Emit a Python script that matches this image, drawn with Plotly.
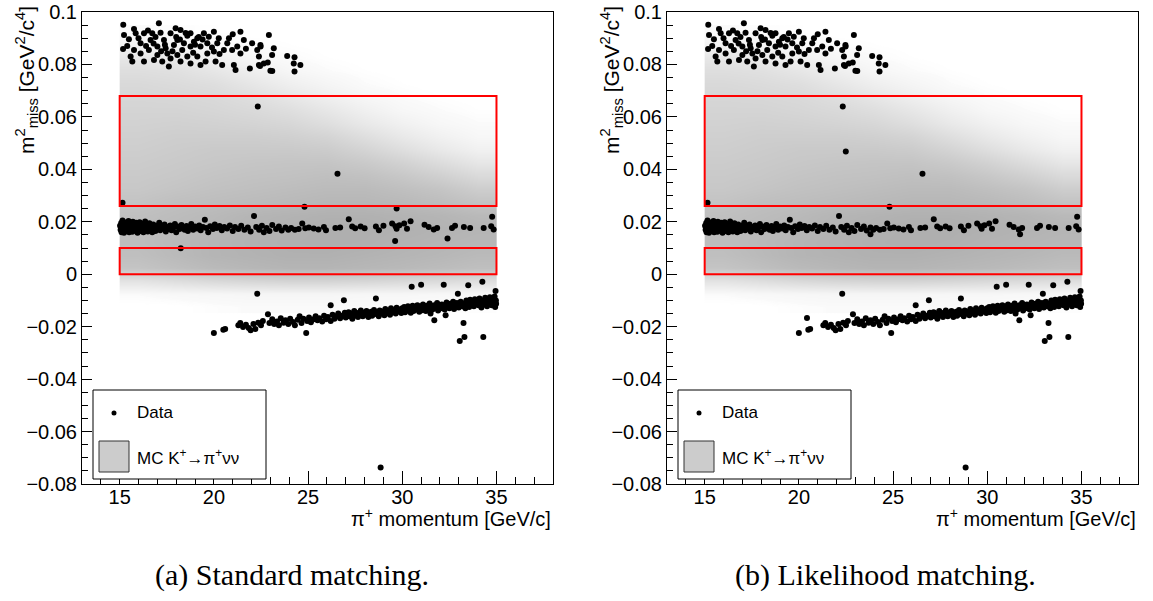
import plotly.graph_objects as go

# ---------------- data ----------------
# pi+ momentum [GeV/c], m2_miss [GeV^2/c^4]
upper_band = [(15.19,0.0951),(15.76,0.0935),(17.08,0.0957),(15.23,0.0912),(15.49,0.0896),(15.85,0.0919),(16.29,0.0919),(16.50,0.0929),(16.73,0.0919),(17.17,0.0921),(17.70,0.0919),(17.97,0.0938),(18.23,0.0931),(18.59,0.0909),(18.76,0.0919),(19.12,0.0900),(19.47,0.0919),(19.73,0.0906),(20.00,0.0925),(20.26,0.0900),(20.80,0.0900),(21.41,0.0925),(21.59,0.0893),(22.03,0.0881),(22.47,0.0874),(22.92,0.0912),(23.18,0.0862),(23.89,0.0832),(24.28,0.0827),(24.59,0.0798),(15.18,0.0859),(15.76,0.0855),(16.11,0.0842),(16.55,0.0855),(17.00,0.0868),(17.44,0.0862),(17.88,0.0874),(18.32,0.0855),(18.76,0.0868),(19.29,0.0868),(19.65,0.0842),(20.00,0.0849),(20.53,0.0855),(20.97,0.0855),(21.41,0.0842),(22.30,0.0855),(22.39,0.0830),(23.09,0.0836),(15.67,0.0811),(16.29,0.0811),(16.82,0.0817),(17.26,0.0811),(17.70,0.0823),(18.23,0.0811),(18.76,0.0804),(19.29,0.0798),(20.09,0.0811),(20.44,0.0798),(21.06,0.0798),(21.15,0.0779),(21.91,0.0785),(22.39,0.0798),(22.65,0.0804),(22.86,0.0807),(23.00,0.0776),(24.24,0.0804),(24.28,0.0773),(17.61,0.0792),(16.11,0.0881),(16.64,0.0893),(17.35,0.0893),(18.06,0.0893),(18.41,0.0881),(18.94,0.0887),(19.65,0.0881),(20.18,0.0881),(20.71,0.0881),(21.24,0.0868),(17.53,0.0842),(18.06,0.0836),(18.59,0.0830),(19.12,0.0830),(19.56,0.0811),(15.58,0.0830),(17.00,0.0836),(16.90,0.0905),(17.40,0.0875),(18.00,0.0905),(18.50,0.0920),(19.00,0.0875),(19.40,0.0895),(16.40,0.0870),(17.80,0.0850),(18.90,0.0845),(19.90,0.0865),(20.30,0.0840),(21.70,0.0860),(21.00,0.0915),(16.00,0.0900),(15.40,0.0870),(18.20,0.0895),(19.20,0.0905),(17.20,0.0850),(16.80,0.0880),(22.48,0.0868),(23.10,0.0775),(22.45,0.0794)]

middle_band = [(15.02,0.0185),(15.05,0.0170),(15.08,0.0195),(15.10,0.0160),(15.12,0.0178),(15.15,0.0205),(15.18,0.0168),(15.20,0.0188),(15.23,0.0158),(15.26,0.0175),(15.30,0.0197),(15.33,0.0182),(15.36,0.0165),(15.40,0.0190),(15.43,0.0172),(15.47,0.0203),(15.50,0.0160),(15.53,0.0180),(15.57,0.0193),(15.60,0.0170),(15.63,0.0186),(15.67,0.0162),(15.70,0.0200),(15.73,0.0177),(15.77,0.0190),(15.80,0.0167),(15.84,0.0183),(15.88,0.0196),(15.91,0.0172),(15.95,0.0158),(15.98,0.0188),(16.02,0.0176),(16.06,0.0198),(16.10,0.0165),(16.14,0.0185),(16.18,0.0172),(16.22,0.0192),(16.26,0.0160),(16.30,0.0180),(16.35,0.0201),(16.40,0.0170),(16.44,0.0187),(16.49,0.0163),(16.54,0.0178),(16.58,0.0194),(16.63,0.0170),(16.68,0.0184),(16.73,0.0160),(16.78,0.0190),(16.83,0.0175),
    (16.90,0.0165),(16.95,0.0185),(17.02,0.0178),(17.10,0.0196),(17.15,0.0168),(17.22,0.0183),(17.30,0.0175),(17.38,0.0190),(17.45,0.0163),(17.52,0.0180),(17.60,0.0172),(17.68,0.0186),(17.75,0.0168),(17.85,0.0178),(17.93,0.0192),(18.00,0.0160),(18.08,0.0182),(18.18,0.0172),(18.28,0.0188),(18.36,0.0176),(18.45,0.0170),(18.55,0.0184),(18.62,0.0165),(18.72,0.0178),(18.80,0.0192),(18.90,0.0170),(19.00,0.0182),(19.12,0.0174),(19.22,0.0186),(19.30,0.0168),(19.42,0.0180),(19.52,0.0208),(19.60,0.0176),(19.70,0.0160),(19.80,0.0183),(19.95,0.0172),(20.05,0.0190),(20.15,0.0176),(20.30,0.0184),(20.42,0.0168),(20.55,0.0180),(20.70,0.0174),(20.85,0.0186),(21.00,0.0165),(21.12,0.0180),(21.30,0.0172),(21.45,0.0185),(21.62,0.0170),(21.80,0.0178),(21.95,0.0163),
    (22.13,0.0222),(22.25,0.0180),(22.40,0.0170),(22.55,0.0185),(22.65,0.0160),(22.80,0.0176),(22.95,0.0165),(23.10,0.0188),(23.30,0.0172),(23.45,0.0182),(23.60,0.0167),(23.80,0.0178),(23.95,0.0170),(24.10,0.0176),(24.30,0.0170),(24.50,0.0172),(24.69,0.0193),(24.85,0.0175),(25.04,0.0178),(25.30,0.0174),(25.55,0.0171),(25.84,0.0180),(25.95,0.0168),(26.45,0.0176),(26.70,0.0178),(27.16,0.0210),(27.34,0.0182),(27.50,0.0175),(27.79,0.0182),(28.00,0.0175),(28.60,0.0182),(28.76,0.0168),(29.00,0.0185),(29.46,0.0193),(29.64,0.0183),(29.70,0.0173),(29.85,0.0187),(30.10,0.0193),(30.25,0.0173),(30.44,0.0202),(31.18,0.0189),(31.40,0.0180),(31.67,0.0171),(31.85,0.0176),(32.64,0.0176),(32.80,0.0185),(33.27,0.0180),(33.60,0.0176),(34.32,0.0176),(34.72,0.0183),(34.77,0.0219),(34.85,0.0171)]

lower_band = [(20.0,-0.0224),(20.5,-0.0212),(20.6,-0.0209),(21.3,-0.0195),(21.4,-0.0186),(21.55,-0.0201),(21.7,-0.0193),(21.85,-0.0205),(21.95,-0.0214),(22.1,-0.0190),(22.2,-0.0209),(22.35,-0.0185),(22.5,-0.0195),(22.6,-0.0178),(22.87,-0.0153),(22.95,-0.0186),
    (23.1,-0.0172),(23.2,-0.0190),(23.35,-0.0180),(23.45,-0.0195),(23.55,-0.0168),(23.7,-0.0185),(23.8,-0.0176),(23.95,-0.0190),(24.05,-0.0170),(24.2,-0.0182),(24.3,-0.0195),(24.45,-0.0174),(24.55,-0.0160),(24.65,-0.0186),(24.75,-0.0170),(24.9,-0.0224),(24.95,-0.0178),(25.05,-0.0165),(25.15,-0.0183),(25.3,-0.0172),(25.4,-0.0160),(25.5,-0.0176),(25.6,-0.0168),(25.75,-0.0180),(25.85,-0.0158),(25.95,-0.0172),(26.05,-0.0163),(26.2,-0.0118),(26.2,-0.0178),(26.3,-0.0155),(26.4,-0.0170),(26.5,-0.0160),(26.6,-0.0150),(26.7,-0.0168),(26.8,-0.0158),(26.9,-0.0099),(26.95,-0.0147),
    (27.0,-0.0165),(27.05,-0.0155),(27.15,-0.0145),(27.2,-0.0160),(27.3,-0.0150),(27.35,-0.0170),(27.45,-0.0140),(27.5,-0.0157),(27.6,-0.0148),(27.65,-0.0163),(27.75,-0.0152),(27.8,-0.0138),(27.9,-0.0160),(27.95,-0.0147),(28.05,-0.0155),(28.1,-0.0140),(28.2,-0.0163),(28.25,-0.0150),(28.35,-0.0143),(28.4,-0.0158),(28.5,-0.0136),(28.55,-0.0152),(28.6,-0.0093),(28.65,-0.0145),(28.75,-0.0160),(28.8,-0.0138),(28.9,-0.0150),(28.95,-0.0142),(29.05,-0.0156),(29.1,-0.0133),(29.2,-0.0148),(29.25,-0.0140),(29.35,-0.0155),(29.4,-0.0130),(29.5,-0.0145),(29.55,-0.0137),(29.65,-0.0150),(29.7,-0.0128),(29.8,-0.0142),(29.85,-0.0135),(29.95,-0.0148),
    (30.0,-0.0130),(30.05,-0.0140),(30.1,-0.0125),(30.15,-0.0145),(30.2,-0.0133),(30.3,-0.0122),(30.35,-0.0138),(30.4,-0.0128),(30.45,-0.0147),(30.5,-0.0048),(30.5,-0.0133),(30.55,-0.0120),(30.6,-0.0140),(30.7,-0.0127),(30.75,-0.0135),(30.8,-0.0118),(30.9,-0.0143),(30.95,-0.0130),(31.0,-0.0040),(31.0,-0.0122),(31.05,-0.0137),(31.1,-0.0115),(31.2,-0.0128),(31.25,-0.0140),(31.3,-0.0120),(31.4,-0.0132),(31.45,-0.0112),(31.5,-0.0150),(31.55,-0.0125),(31.6,-0.0135),(31.7,-0.0176),(31.7,-0.0118),(31.75,-0.0128),(31.85,-0.0110),(31.9,-0.0138),(31.95,-0.0122),(32.05,-0.0130),(32.1,-0.0115),(32.2,-0.0040),(32.2,-0.0125),(32.25,-0.0135),(32.3,-0.0156),(32.35,-0.0108),(32.4,-0.0120),(32.5,-0.0130),(32.55,-0.0113),(32.6,-0.0125),(32.7,-0.0105),(32.75,-0.0133),(32.8,-0.0118),(32.9,-0.0110),(32.95,-0.0074),(33.0,-0.0127),(33.05,-0.0255),(33.05,-0.0115),(33.1,-0.0105),(33.2,-0.0122),(33.25,-0.0186),(33.3,-0.0239),(33.3,-0.0112),(33.35,-0.0130),(33.4,-0.0100),(33.45,-0.0118),(33.5,-0.0042),(33.5,-0.0108),(33.55,-0.0125),(33.6,-0.0097),(33.7,-0.0115),(33.75,-0.0105),(33.8,-0.0122),(33.85,-0.0095),(33.9,-0.0112),(34.0,-0.0103),(34.05,-0.0118),(34.1,-0.0093),(34.15,-0.0110),(34.2,-0.0127),(34.25,-0.0029),(34.3,-0.0239),(34.3,-0.0100),(34.35,-0.0115),(34.4,-0.0090),(34.45,-0.0107),(34.5,-0.0122),(34.55,-0.0097),(34.6,-0.0112),(34.65,-0.0088),(34.7,-0.0105),(34.75,-0.0118),(34.8,-0.0095),(34.85,-0.0110),(34.9,-0.0085),(34.93,-0.0125),(34.95,-0.0064),(34.97,-0.0100),(34.98,-0.0113)]

common_outliers = [(15.15,0.0273),(22.33,0.0640),(26.56,0.0383),(24.81,0.0257),(22.30,-0.0074),(28.85,-0.0737)]
standard_only = [(18.24,0.0099),(29.70,0.0251),(29.62,0.0127),(32.40,0.0136)]
likelihood_only = [(22.49,0.0468),(20.43,-0.0167),(31.74,0.0152),(23.80,0.0152)]

# MC K+ -> pi+ nu nu density (relative grey level), bin edges
mc_p_edges = [15, 17, 19, 21, 23, 25, 27, 29, 31, 33, 35]
mc_m2_edges = [-0.015, -0.010, -0.005, 0.000, 0.005, 0.010, 0.015, 0.020, 0.025, 0.030, 0.035, 0.040,
               0.045, 0.050, 0.055, 0.060, 0.065, 0.070, 0.075, 0.080, 0.085, 0.090, 0.095]
mc_density = [
    [0.00, 0.00, 0.02, 0.03, 0.03, 0.03, 0.03, 0.02, 0.02, 0.02],
    [0.03, 0.05, 0.06, 0.07, 0.07, 0.07, 0.06, 0.06, 0.05, 0.05],
    [0.25, 0.30, 0.35, 0.38, 0.40, 0.40, 0.38, 0.35, 0.33, 0.30],
    [0.55, 0.60, 0.65, 0.68, 0.70, 0.70, 0.68, 0.66, 0.63, 0.60],
    [0.60, 0.65, 0.70, 0.72, 0.74, 0.74, 0.72, 0.70, 0.68, 0.65],
    [0.62, 0.66, 0.70, 0.73, 0.75, 0.76, 0.75, 0.72, 0.70, 0.68],
    [0.62, 0.65, 0.68, 0.72, 0.74, 0.76, 0.76, 0.74, 0.72, 0.70],
    [0.60, 0.63, 0.66, 0.70, 0.72, 0.74, 0.74, 0.72, 0.70, 0.66],
    [0.56, 0.60, 0.62, 0.64, 0.66, 0.68, 0.68, 0.66, 0.62, 0.56],
    [0.52, 0.55, 0.58, 0.60, 0.62, 0.64, 0.64, 0.60, 0.55, 0.46],
    [0.50, 0.52, 0.55, 0.57, 0.58, 0.60, 0.58, 0.52, 0.44, 0.34],
    [0.48, 0.50, 0.52, 0.54, 0.55, 0.55, 0.50, 0.42, 0.32, 0.22],
    [0.46, 0.48, 0.50, 0.50, 0.50, 0.48, 0.40, 0.30, 0.20, 0.12],
    [0.44, 0.46, 0.46, 0.46, 0.44, 0.40, 0.30, 0.20, 0.12, 0.06],
    [0.42, 0.43, 0.42, 0.40, 0.37, 0.30, 0.20, 0.12, 0.06, 0.03],
    [0.40, 0.40, 0.38, 0.35, 0.30, 0.22, 0.13, 0.06, 0.03, 0.01],
    [0.38, 0.37, 0.35, 0.30, 0.22, 0.14, 0.07, 0.03, 0.01, 0.00],
    [0.35, 0.33, 0.30, 0.22, 0.14, 0.08, 0.03, 0.01, 0.00, 0.00],
    [0.30, 0.28, 0.22, 0.14, 0.07, 0.03, 0.01, 0.00, 0.00, 0.00],
    [0.22, 0.18, 0.12, 0.06, 0.03, 0.01, 0.00, 0.00, 0.00, 0.00],
    [0.10, 0.08, 0.05, 0.02, 0.01, 0.00, 0.00, 0.00, 0.00, 0.00],
    [0.03, 0.02, 0.01, 0.00, 0.00, 0.00, 0.00, 0.00, 0.00, 0.00],
]

# signal regions
region_p = [15, 35]
region1_m2 = [0.0, 0.01]
region2_m2 = [0.026, 0.068]

y_tickvals = [-0.08, -0.06, -0.04, -0.02, 0, 0.02, 0.04, 0.06, 0.08, 0.1]
y_ticktext = ["\u22120.08", "\u22120.06", "\u22120.04", "\u22120.02", "0", "0.02", "0.04", "0.06", "0.08", "0.1"]
x_tickvals = [15, 20, 25, 30, 35]

captions = ["(a) Standard matching.", "(b) Likelihood matching."]

# ---------------- figure ----------------
W, H = 1153, 601
FONT = "Liberation Sans, Arial, sans-serif"
panels_px = [(82, 553), (667, 1138)]   # frame left/right in pixels
caption_cx = [292, 885]
top_px, bot_px = 12, 484

fig = go.Figure()
panel_data = [common_outliers + standard_only, common_outliers + likelihood_only]

for i in range(2):
    xa = "x" if i == 0 else "x2"
    ya = "y" if i == 0 else "y2"
    pts = upper_band + middle_band + lower_band + panel_data[i]
    fig.add_trace(go.Heatmap(
        x=mc_p_edges, y=mc_m2_edges, z=mc_density, xaxis=xa, yaxis=ya,
        zmin=0, zmax=1, zsmooth="best", showscale=False, hoverinfo="skip",
        colorscale=[[0, "rgba(255,255,255,0)"], [0.03, "rgba(250,250,250,1)"], [1, "rgb(150,150,150)"]]))
    fig.add_trace(go.Scatter(
        x=[p[0] for p in pts], y=[p[1] for p in pts], mode="markers",
        xaxis=xa, yaxis=ya, showlegend=False, hoverinfo="skip",
        marker=dict(color="black", size=6, line=dict(width=0))))
    for r in (region1_m2, region2_m2):
        fig.add_shape(type="rect", xref=xa, yref=ya, x0=region_p[0], x1=region_p[1],
                      y0=r[0], y1=r[1], line=dict(color="#ff0000", width=2))

    l, r_ = panels_px[i]
    dom = [l / W, r_ / W]
    axcommon = dict(showgrid=False, zeroline=False, showline=True, mirror=True, automargin=False,
                    linecolor="black", linewidth=1, ticks="inside", tickcolor="black",
                    tickfont=dict(family=FONT, size=20, color="black"))
    xkey = "xaxis" if i == 0 else "xaxis2"
    ykey = "yaxis" if i == 0 else "yaxis2"
    fig.update_layout({
        xkey: dict(axcommon, domain=dom, range=[13, 38], anchor=ya, tickmode="array",
                   tickvals=x_tickvals, ticklen=13, ticklabelstandoff=-5,
                   minor=dict(tickmode="linear", tick0=13, dtick=1, ticklen=7, ticks="inside", tickcolor="black")),
        ykey: dict(axcommon, domain=[1 - bot_px / H, 1 - top_px / H], range=[-0.08, 0.1], anchor=xa,
                   tickmode="array", tickvals=y_tickvals, ticktext=y_ticktext, ticklen=10,
                   minor=dict(tickmode="linear", tick0=0, dtick=0.005, ticklen=6, ticks="inside", tickcolor="black")),
    })

    off = l - 82
    # axis titles
    fig.add_annotation(xref="paper", yref="paper", x=(26 + off) / W, y=1 - 80 / H,
                       text="m<sup>2</sup><sub>miss</sub> [GeV<sup>2</sup>/c<sup>4</sup>]", textangle=-90,
                       showarrow=False, xanchor="center", yanchor="middle",
                       font=dict(family=FONT, size=21, color="black"))
    fig.add_annotation(xref="paper", yref="paper", x=r_ / W, y=1 - 517 / H,
                       text="\u03c0<sup>+</sup> momentum [GeV/c]", showarrow=False,
                       xanchor="right", yanchor="middle",
                       font=dict(family=FONT, size=20, color="black"))
    # legend box
    fig.add_shape(type="rect", xref="paper", yref="paper",
                  x0=(93 + off) / W, x1=(266 + off) / W, y0=1 - 479 / H, y1=1 - 390 / H,
                  line=dict(color="black", width=1), fillcolor="white")
    fig.add_shape(type="circle", xref="paper", yref="paper",
                  x0=(111.5 + off) / W, x1=(116.5 + off) / W, y0=1 - 415.5 / H, y1=1 - 410.5 / H,
                  line=dict(color="black", width=0), fillcolor="black")
    fig.add_shape(type="rect", xref="paper", yref="paper",
                  x0=(99 + off) / W, x1=(129 + off) / W, y0=1 - 472 / H, y1=1 - 441 / H,
                  line=dict(color="#333333", width=1), fillcolor="#cccccc")
    fig.add_annotation(xref="paper", yref="paper", x=(135 + off) / W, y=1 - 413 / H,
                       text="Data", showarrow=False, xanchor="left", yanchor="middle",
                       font=dict(family=FONT, size=17, color="black"))
    fig.add_annotation(xref="paper", yref="paper", x=(135 + off) / W, y=1 - 457 / H,
                       text="MC K<sup>+</sup>\u2192\u03c0<sup>+</sup>\u03bd\u03bd", showarrow=False,
                       xanchor="left", yanchor="middle",
                       font=dict(family=FONT, size=17, color="black"))
    # caption
    fig.add_annotation(xref="paper", yref="paper", x=caption_cx[i] / W, y=1 - 575 / H,
                       text=captions[i], showarrow=False, xanchor="center", yanchor="middle",
                       font=dict(family="Liberation Serif, serif", size=30, color="black"))

fig.update_layout(width=W, height=H, margin=dict(l=0, r=0, t=0, b=0),
                  paper_bgcolor="white", plot_bgcolor="white", showlegend=False)
fig.write_html("out.html", config={"displayModeBar": False},
               post_script="document.body.style.margin='0px';document.body.style.overflow='hidden';")
